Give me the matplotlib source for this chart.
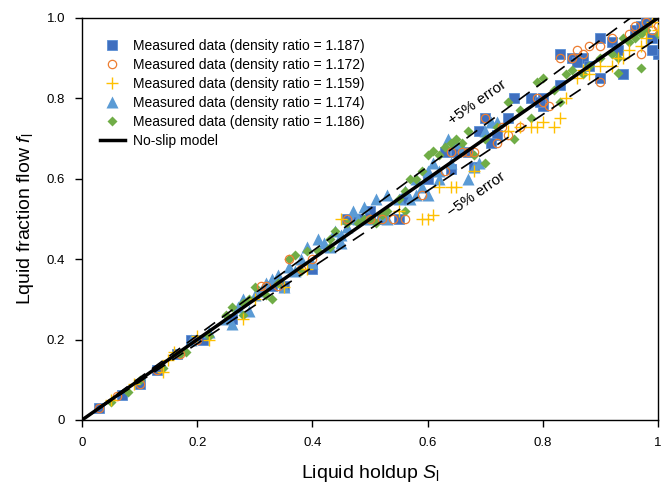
import matplotlib
matplotlib.use("Agg")
import matplotlib.pyplot as plt
import numpy as np

plt.rcParams['font.family'] = ['Liberation Sans', 'DejaVu Sans']
plt.rcParams['mathtext.fontset'] = 'custom'
plt.rcParams['mathtext.rm'] = 'Liberation Sans'
plt.rcParams['mathtext.it'] = 'Liberation Sans:italic'

# --- data (S = liquid holdup, f = liquid fraction flow) ---
sq_S = [0.03,0.07,0.10,0.13,0.165,0.19,0.21,0.26,0.33,0.35,0.40,0.46,0.48,0.50,0.52,0.55,0.60,0.64,0.63,0.65,0.67,
        0.70,0.72,0.78,0.80,0.80,0.83,0.85,0.87,0.88,0.90,0.92,0.93,0.94,0.96,0.97,0.98,0.99,1.00,0.99,0.83,0.90,
        0.68,0.56,0.50,0.71,0.75,0.69,0.74,0.795,0.86]
sq_f = [0.03,0.063,0.09,0.125,0.165,0.20,0.20,0.25,0.333,0.333,0.375,0.50,0.50,0.50,0.50,0.50,0.60,0.625,0.667,0.667,0.667,
        0.75,0.71,0.80,0.80,0.78,0.833,0.90,0.90,0.88,0.95,0.94,0.92,0.86,0.97,0.98,0.99,0.95,0.91,0.92,0.91,0.85,
        0.63,0.55,0.52,0.69,0.80,0.72,0.75,0.79,0.89]

ci_S = [0.03,0.06,0.10,0.13,0.17,0.20,0.31,0.32,0.34,0.38,0.36,0.40,0.46,0.50,0.52,0.54,0.56,0.59,0.64,0.66,0.67,0.68,
        0.70,0.72,0.74,0.76,0.79,0.80,0.81,0.83,0.85,0.86,0.88,0.90,0.92,0.95,0.96,0.98,0.99,1.00,0.97,0.90,0.87,0.73,0.63]
ci_f = [0.03,0.06,0.09,0.125,0.165,0.20,0.333,0.333,0.333,0.375,0.40,0.40,0.50,0.50,0.50,0.50,0.50,0.56,0.667,0.667,0.667,0.667,
        0.75,0.69,0.71,0.73,0.80,0.79,0.78,0.90,0.90,0.92,0.93,0.93,0.95,0.96,0.98,0.99,0.97,0.98,0.91,0.84,0.91,0.73,0.62]

pl_S = [0.05,0.09,0.15,0.16,0.14,0.20,0.22,0.28,0.30,0.35,0.39,0.45,0.55,0.59,0.60,0.61,0.64,0.65,0.62,0.68,0.74,0.76,
        0.78,0.79,0.80,0.82,0.83,0.84,0.86,0.88,0.90,0.92,0.93,0.94,0.95,0.97,0.98,1.00,0.99,0.87]
pl_f = [0.05,0.09,0.15,0.17,0.12,0.21,0.20,0.25,0.30,0.33,0.375,0.50,0.52,0.50,0.50,0.51,0.58,0.58,0.58,0.62,0.72,0.73,
        0.73,0.73,0.74,0.73,0.75,0.80,0.85,0.86,0.88,0.88,0.90,0.90,0.92,0.93,0.95,0.97,0.99,0.87]

tr_S = [0.19,0.22,0.25,0.27,0.28,0.30,0.31,0.32,0.33,0.34,0.36,0.37,0.38,0.39,0.41,0.42,0.44,0.45,0.46,0.47,0.48,0.50,
        0.52,0.53,0.55,0.56,0.58,0.59,0.60,0.61,0.62,0.635,0.65,0.66,0.67,0.69,0.70,0.71,0.72,0.51,0.49,0.43,0.40,0.35,
        0.29,0.26,0.57,0.64,0.68,0.53,0.45,0.62,0.60,0.58]
tr_f = [0.20,0.22,0.25,0.28,0.30,0.31,0.32,0.34,0.35,0.36,0.38,0.37,0.40,0.43,0.45,0.44,0.47,0.46,0.48,0.52,0.50,0.50,
        0.51,0.50,0.55,0.57,0.60,0.58,0.62,0.64,0.60,0.70,0.69,0.68,0.60,0.64,0.72,0.74,0.74,0.55,0.53,0.43,0.39,0.33,
        0.27,0.24,0.55,0.64,0.63,0.56,0.44,0.62,0.56,0.56]

di_S = [0.05,0.08,0.10,0.14,0.17,0.18,0.22,0.25,0.26,0.28,0.29,0.30,0.32,0.34,0.36,0.37,0.39,0.41,0.43,0.44,0.46,0.48,
        0.49,0.50,0.51,0.52,0.53,0.55,0.56,0.57,0.58,0.59,0.60,0.61,0.62,0.63,0.65,0.66,0.67,0.68,0.70,0.72,0.74,0.76,
        0.78,0.80,0.82,0.83,0.84,0.85,0.88,0.90,0.92,0.93,0.95,0.96,0.97,0.98,1.00,0.94,0.87,0.75,0.70,0.56,0.43,0.38,
        0.28,0.33,0.64,0.79,0.97,0.93]
di_f = [0.045,0.07,0.10,0.13,0.165,0.17,0.21,0.26,0.28,0.29,0.30,0.33,0.31,0.34,0.40,0.41,0.42,0.42,0.45,0.47,0.49,0.49,
        0.50,0.50,0.49,0.51,0.52,0.55,0.57,0.60,0.60,0.62,0.66,0.67,0.66,0.68,0.70,0.69,0.72,0.66,0.70,0.73,0.79,0.77,
        0.75,0.85,0.82,0.79,0.86,0.87,0.88,0.90,0.91,0.90,0.94,0.95,0.96,0.97,0.96,0.95,0.86,0.70,0.64,0.52,0.43,0.37,
        0.26,0.30,0.69,0.84,0.876,0.863]

labels = ["Measured data (density ratio = 1.187)",
          "Measured data (density ratio = 1.172)",
          "Measured data (density ratio = 1.159)",
          "Measured data (density ratio = 1.174)",
          "Measured data (density ratio = 1.186)",
          "No-slip model"]
model_S = [0.0, 1.0]
err_pct = 0.05

fig = plt.figure(figsize=(6.7, 4.87), dpi=100)
ax = fig.add_axes([0.1224, 0.1376, 0.8597, 0.8255])

ax.plot(sq_S, sq_f, 's', ms=7.5, color='#3f6fbf', mec='#5b8fd5', mew=0.6, label=labels[0], zorder=3)
ax.plot(ci_S, ci_f, 'o', ms=6, mfc='none', mec='#ed7d31', mew=0.9, label=labels[1], zorder=4)
ax.plot(pl_S, pl_f, '+', ms=8, color='#ffc000', mew=1.0, label=labels[2], zorder=4)
ax.plot(tr_S, tr_f, '^', ms=8, color='#5b9bd5', mec='none', label=labels[3], zorder=3)
ax.plot(di_S, di_f, 'D', ms=5.5, color='#70ad47', mec='none', label=labels[4], zorder=3)

ms_ = np.array(model_S)
ax.plot(ms_, ms_, '-', color='black', lw=2.5, label=labels[5], zorder=5)
ax.plot(ms_, ms_ * (1 + err_pct), color='black', lw=1.2, ls=(0, (8, 5)), zorder=5)
ax.plot(ms_, ms_ * (1 - err_pct), color='black', lw=1.2, ls=(0, (8, 5)), zorder=5)

ang = 34.9
ax.text(0.687, 0.79, "+5% error", rotation=ang, ha='center', va='center', fontsize=11, zorder=6)
ax.text(0.685, 0.56, "\u22125% error", rotation=ang, ha='center', va='center', fontsize=11, zorder=6)

ax.set_xlim(0, 1)
ax.set_ylim(0, 1)
ax.set_xticks([0, 0.2, 0.4, 0.6, 0.8, 1.0])
ax.set_xticklabels(["0", "0.2", "0.4", "0.6", "0.8", "1"])
ax.set_yticks([0, 0.2, 0.4, 0.6, 0.8, 1.0])
ax.set_yticklabels(["0", "0.2", "0.4", "0.6", "0.8", "1.0"])
ax.tick_params(direction='out', length=5, width=1, labelsize=9.5, top=False, right=False, pad=7)
for s in ax.spines.values():
    s.set_linewidth(1.0)

ax.set_xlabel(r"Liquid holdup $\mathit{S}_\mathrm{l}$", fontsize=14, labelpad=10)
ax.set_ylabel(r"Lquid fraction flow $\mathit{f}_\mathrm{l}$", fontsize=14, labelpad=8)

leg = ax.legend(loc='upper left', bbox_to_anchor=(0.031, 0.948), frameon=False, fontsize=10,
                handlelength=1.8, handletextpad=0.6, labelspacing=0.36, borderaxespad=0.0, borderpad=0.0)

fig.savefig("out.png", dpi=100)
